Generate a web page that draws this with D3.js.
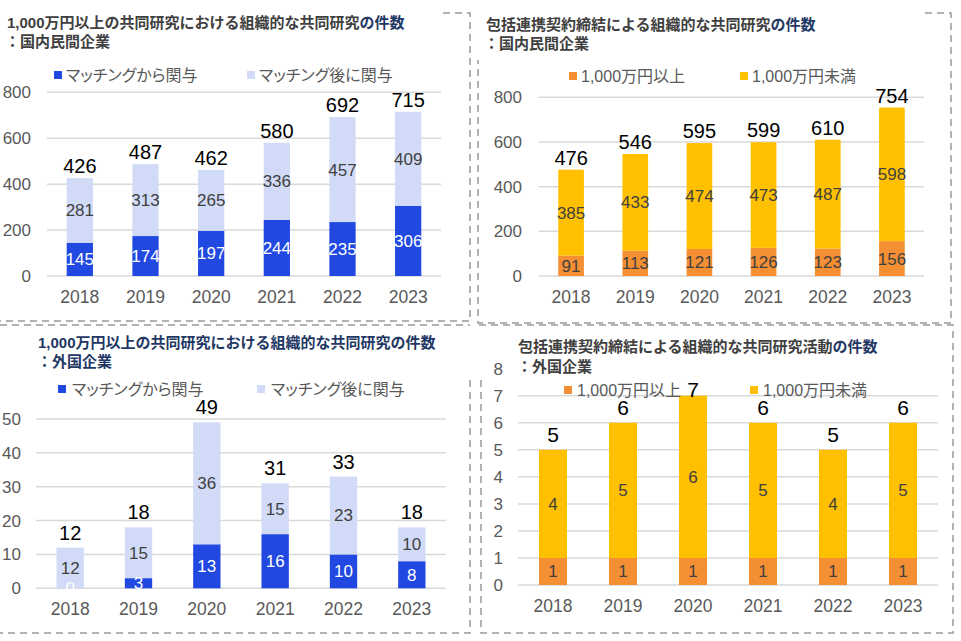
<!DOCTYPE html>
<html>
<head>
<meta charset="utf-8">
<script src="https://cdn.jsdelivr.net/npm/d3@7"></script>
<style>
  html, body { margin: 0; padding: 0; background: #fff; }
  svg { display: block; font-family: 'Liberation Sans', 'Noto Sans CJK JP', sans-serif; }
  .legend text { font-feature-settings: "palt"; }
</style>
</head>
<body>
<svg id="chart" width="961" height="641"></svg>
<script>
// ---------- data ----------
const years = ["2018", "2019", "2020", "2021", "2022", "2023"];

// Panel 1: 1,000万円以上の共同研究における組織的な共同研究の件数：国内民間企業
const p1Matching = [145, 174, 197, 244, 235, 306];
const p1After = [281, 313, 265, 336, 457, 409];
const p1Ticks = [0, 200, 400, 600, 800];

// Panel 2: 包括連携契約締結による組織的な共同研究の件数：国内民間企業
const p2Over = [91, 113, 121, 126, 123, 156];
const p2Under = [385, 433, 474, 473, 487, 598];
const p2Ticks = [0, 200, 400, 600, 800];

// Panel 3: 1,000万円以上 … ：外国企業
const p3Matching = [0, 3, 13, 16, 10, 8];
const p3After = [12, 15, 36, 15, 23, 10];
const p3Ticks = [0, 10, 20, 30, 40, 50];

// Panel 4: 包括連携契約締結 … 活動の件数：外国企業
const p4Over = [1, 1, 1, 1, 1, 1];
const p4Under = [4, 5, 6, 5, 4, 5];
const p4Ticks = [0, 1, 2, 3, 4, 5, 6, 7, 8];
const p4GridTicks = [0, 1, 2, 3, 4, 5, 6, 7];

const legendMatching = ["マッチングから関与", "マッチング後に関与"];
const legendAmount = ["1,000万円以上", "1,000万円未満"];

// ---------- styles ----------
const BLUE = "#2149e1", LIGHT = "#d1dbf7", ORANGE = "#f58f33", YELLOW = "#ffc000";
const NAVY = "#1f3864", DARK = "#404040", GRAY = "#595959", GRID = "#d9d9d9";

const svg = d3.select("#chart");

// ---------- dashed panel borders ----------
const borders = [
  "M443,13H470V321H0",
  "M925,13H951V323H478V60",
  "M0,325H470",
  "M470,380V633H0",
  "M481,380V633H953V325H478"
];
svg.append("g").selectAll("path").data(borders).join("path")
  .attr("d", d => d)
  .attr("fill", "none")
  .attr("stroke", "#999")
  .attr("stroke-width", 1.5)
  .attr("stroke-dasharray", "7,5");

function panel(cfg) {
  const g = svg.append("g");
  const x = d3.scaleBand().domain(years).range(cfg.xr).paddingInner(0.6).paddingOuter(0.3);
  const y = d3.scaleLinear().domain(cfg.yd).range(cfg.yr);

  // title
  const t1 = g.append("text").attr("x", cfg.tx).attr("y", cfg.ty1)
    .attr("font-size", 15).attr("font-weight", "bold");
  t1.append("tspan").attr("fill", cfg.titleColor).text(cfg.title[0]);
  t1.append("tspan").attr("fill", NAVY).text(cfg.title[1]);
  g.append("text").attr("x", cfg.tx2).attr("y", cfg.ty2)
    .attr("font-size", 15).attr("font-weight", "bold")
    .attr("fill", cfg.titleColor).text(cfg.title[2]);

  // gridlines
  g.append("g").selectAll("line").data(cfg.grid).join("line")
    .attr("x1", cfg.xr[0]).attr("x2", cfg.xr[1])
    .attr("y1", d => y(d)).attr("y2", d => y(d))
    .attr("stroke", GRID).attr("stroke-width", 1.5);

  // y axis labels
  const yAxis = d3.axisLeft(y).tickValues(cfg.ticks).tickSize(0).tickPadding(0);
  const ya = g.append("g").attr("transform", `translate(${cfg.tickX},0)`).call(yAxis);
  ya.select(".domain").remove();
  ya.selectAll("text").attr("font-size", 17).attr("fill", GRAY)
    .attr("font-family", "'Liberation Sans', sans-serif");

  // x axis labels
  const xAxis = d3.axisBottom(x).tickSize(0).tickPadding(0);
  const xa = g.append("g").attr("transform", `translate(0,${cfg.yearY})`).call(xAxis);
  xa.select(".domain").remove();
  xa.selectAll("text").attr("font-size", 17.5).attr("fill", GRAY)
    .attr("dy", null).attr("font-family", "'Liberation Sans', sans-serif");

  // stacked bars
  const rows = years.map((yr, i) => ({ year: yr, a: cfg.a[i], b: cfg.b[i] }));
  const stack = d3.stack().keys(["a", "b"])(rows);
  const colors = cfg.colors;
  const layers = g.append("g").selectAll("g").data(stack).join("g")
    .attr("fill", (d, i) => colors[i]);
  layers.selectAll("rect").data(d => d).join("rect")
    .attr("x", d => x(d.data.year))
    .attr("width", x.bandwidth())
    .attr("y", d => y(d[1]))
    .attr("height", d => y(d[0]) - y(d[1]));

  // segment labels
  stack.forEach((layer, li) => {
    g.append("g").selectAll("text").data(layer).join("text")
      .attr("x", d => x(d.data.year) + x.bandwidth() / 2)
      .attr("y", d => (y(d[0]) + y(d[1])) / 2)
      .attr("dy", "0.35em")
      .attr("text-anchor", "middle")
      .attr("font-size", 17)
      .attr("fill", cfg.labelColors[li])
      .text(d => d.data[layer.key]);
  });

  // totals
  g.append("g").selectAll("text").data(rows).join("text")
    .attr("x", d => x(d.year) + x.bandwidth() / 2)
    .attr("y", d => Math.max(y(d.a + d.b) - cfg.totalOff, cfg.totalMinY))
    .attr("text-anchor", "middle")
    .attr("font-size", cfg.totalSize)
    .attr("fill", "#000")
    .text(d => d.a + d.b);

  // legend
  const lg = g.append("g").attr("class", "legend");
  cfg.legend.forEach((name, i) => {
    lg.append("rect").attr("x", cfg.legX[i]).attr("y", cfg.legY - 4)
      .attr("width", 8).attr("height", 8).attr("fill", colors[i]);
    lg.append("text").attr("x", cfg.legX[i] + cfg.legGap).attr("y", cfg.legY)
      .attr("dy", "0.35em").attr("font-size", 16).attr("fill", GRAY).text(name);
  });
}

panel({
  title: ["1,000万円以上の共同研究における組織的な共同研究", "の件数", "：国内民間企業"],
  titleColor: DARK, tx: 7, ty1: 27.5, tx2: 5, ty2: 46.5,
  xr: [47, 441], yd: [0, 800], yr: [276, 92.3],
  ticks: p1Ticks, grid: p1Ticks, tickX: 31, yearY: 303,
  a: p1Matching, b: p1After, colors: [BLUE, LIGHT], labelColors: ["#fff", DARK],
  totalOff: 5, totalMinY: 0, totalSize: 20,
  legend: legendMatching, legX: [54, 247], legY: 75, legGap: 12
});

panel({
  title: ["包括連携契約締結による組織的な共同研究", "の件数", "：国内民間企業"],
  titleColor: DARK, tx: 486, ty1: 29.5, tx2: 484, ty2: 48.5,
  xr: [539, 924], yd: [0, 800], yr: [276, 97.3],
  ticks: p2Ticks, grid: p2Ticks, tickX: 522, yearY: 303,
  a: p2Over, b: p2Under, colors: [ORANGE, YELLOW], labelColors: [DARK, DARK],
  totalOff: 5, totalMinY: 0, totalSize: 20,
  legend: legendAmount, legX: [569, 740], legY: 76, legGap: 12
});

panel({
  title: ["1,000万円以上の共同研究における組織的な共同研究の件数", "", "：外国企業"],
  titleColor: NAVY, tx: 38, ty1: 348, tx2: 37, ty2: 367,
  xr: [36, 446], yd: [0, 50], yr: [588.3, 419],
  ticks: p3Ticks, grid: p3Ticks, tickX: 21, yearY: 615,
  a: p3Matching, b: p3After, colors: [BLUE, LIGHT], labelColors: ["#fff", DARK],
  totalOff: 8, totalMinY: 0, totalSize: 20,
  legend: legendMatching, legX: [58, 257], legY: 389, legGap: 14
});

panel({
  title: ["包括連携契約締結による組織的な共同研究活動", "の件数", "：外国企業"],
  titleColor: DARK, tx: 518, ty1: 352, tx2: 517, ty2: 371.5,
  xr: [518, 938], yd: [0, 8], yr: [585, 368.7],
  ticks: p4Ticks, grid: p4GridTicks, tickX: 503, yearY: 612,
  a: p4Over, b: p4Under, colors: [ORANGE, YELLOW], labelColors: [DARK, DARK],
  totalOff: 8, totalMinY: 397, totalSize: 21,
  legend: legendAmount, legX: [564, 750], legY: 390, legGap: 13
});
</script>
</body>
</html>
